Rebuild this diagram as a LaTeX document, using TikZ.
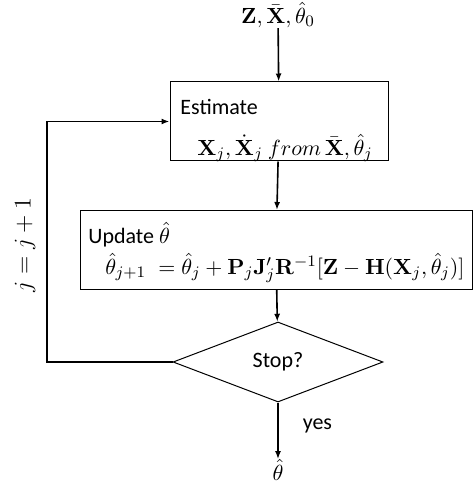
\documentclass[tikz,border=0pt]{standalone}
\usepackage[no-math]{fontspec}
\setmainfont{Carlito}
\usetikzlibrary{shapes.geometric,arrows.meta}
\begin{document}
\begin{tikzpicture}[x=0.5pt,y=-0.5pt,
  txt/.style={font=\fontsize{11}{13}\selectfont,inner sep=0pt},
  procbox/.style={draw,line width=0.5pt,minimum width=#1,inner sep=0pt,minimum height=39.5pt},
  decision/.style={draw,diamond,line width=0.5pt,inner sep=0pt,minimum width=105pt,minimum height=40pt,font=\fontsize{11}{13}\selectfont},
  flow/.style={line width=0.8pt,-{Latex[length=4pt,width=3pt]}}]
\useasboundingbox (0,0) rectangle (474,485);
\node[txt] (input) at (278,15) {$\mathbf{Z},\bar{\mathbf{X}},\hat{\theta}_0$};
\node[procbox=109pt] (est) at (279,121.5) {};
\node[txt,anchor=west] (estlabel) at (180,107) {Estimate};
\node[txt,anchor=west] (estform) at (197,148) {$\mathbf{X}_j,\dot{\mathbf{X}}_j\ from\,\bar{\mathbf{X}},\hat{\theta}_j$};
\node[procbox=196pt] (upd) at (276,250) {};
\node[txt,anchor=west] (updlabel) at (88,235) {Update $\hat{\theta}$};
\node[txt,anchor=west] (updform) at (105,268) {$\hat{\theta}_{j+1}\;=\hat{\theta}_j+\mathbf{P}_j\mathbf{J}_j'\mathbf{R}^{-1}[\mathbf{Z}-\mathbf{H}(\mathbf{X}_j,\hat{\theta}_j)]$};
\node[decision] (stop) at (278,362) {Stop?};
\node[txt] (output) at (278,470) {$\hat{\theta}$};
\coordinate (loop) at (47,362);
% connectors
\draw[flow] (input) -- (est);
\draw[flow] (est) -- (upd);
\draw[flow] (upd) -- (stop);
\draw[flow] (stop) -- (output) node[txt,pos=0.42,right=12pt] (yes) {yes};
\draw[flow] (stop.west) -- (loop) |- (est.west);
\node[txt,rotate=90,font=\fontsize{12}{14}\selectfont] (incr) at (25,245) {$j=j+1$};
\end{tikzpicture}
\end{document}
